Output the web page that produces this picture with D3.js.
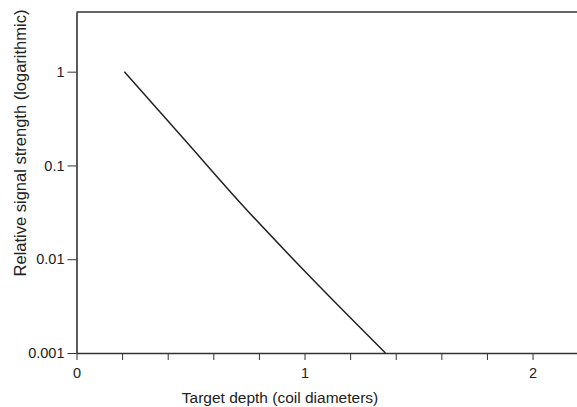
<!DOCTYPE html>
<html>
<head>
<meta charset="utf-8">
<script src="https://cdn.jsdelivr.net/npm/d3@7"></script>
<style>
  html, body { margin: 0; padding: 0; background: #fff; }
  svg { display: block; font-family: "Liberation Sans", Arial, Helvetica, sans-serif; }
</style>
</head>
<body>
<svg id="chart" width="577" height="407"></svg>
<script>
// Data
const depth = [0.21, 0.475, 0.74, 1.03, 1.355];
const signal = [1.0, 0.187, 0.035, 0.0063, 0.001];
const xTickValues = [0, 0.2, 0.4, 0.6, 0.8, 1, 1.2, 1.4, 1.6, 1.8, 2, 2.2];
const xTickLabels = ["0", "", "", "", "", "1", "", "", "", "", "2", ""];
const yTickValues = [1, 0.1, 0.01, 0.001];
const yTickLabels = ["1", "0.1", "0.01", "0.001"];
const xTitle = "Target depth (coil diameters)";
const yTitle = "Relative signal strength (logarithmic)";

const svg = d3.select("#chart");
const mLeft = 76.5, mRight = 577, mTop = 12, mBottom = 353;

const x = d3.scaleLinear().domain([0, 2.195]).range([mLeft, mRight]);
const y = d3.scaleLog().domain([0.001, 4.33]).range([mBottom, mTop]);

const axisColor = "#333";

// X axis
const xAxis = svg.append("g")
  .attr("transform", `translate(0,${mBottom})`)
  .call(d3.axisBottom(x)
    .tickValues(xTickValues)
    .tickFormat((d, i) => xTickLabels[i])
    .tickSize(7)
    .tickPadding(8)
    .tickSizeOuter(0));
xAxis.select(".domain").attr("stroke", axisColor).attr("stroke-width", 1.6);
xAxis.selectAll(".tick line").attr("stroke", axisColor).attr("stroke-width", 1);
xAxis.selectAll(".tick text").attr("fill", "#222").style("font-size", "14.5px");

// Y axis
const yAxis = svg.append("g")
  .attr("transform", `translate(${mLeft},0)`)
  .call(d3.axisLeft(y)
    .tickValues(yTickValues)
    .tickFormat((d, i) => yTickLabels[i])
    .tickSize(9)
    .tickPadding(3)
    .tickSizeOuter(0));
yAxis.select(".domain").attr("stroke", axisColor).attr("stroke-width", 1.6);
yAxis.selectAll(".tick line").attr("stroke", axisColor).attr("stroke-width", 1);
yAxis.selectAll(".tick text").attr("fill", "#222").style("font-size", "14.5px");

// Top border
svg.append("line")
  .attr("x1", mLeft).attr("x2", mRight)
  .attr("y1", mTop).attr("y2", mTop)
  .attr("stroke", axisColor).attr("stroke-width", 1.6);

// Curve
const pts = depth.map((d, i) => [d, signal[i]]);
svg.append("path")
  .datum(pts)
  .attr("fill", "none")
  .attr("stroke", "#222")
  .attr("stroke-width", 1.5)
  .attr("d", d3.line().x(d => x(d[0])).y(d => y(d[1])).curve(d3.curveMonotoneX));

// Titles
svg.append("text")
  .attr("x", 280).attr("y", 403)
  .attr("text-anchor", "middle")
  .attr("fill", "#222")
  .style("font-size", "15.5px")
  .text(xTitle);

svg.append("text")
  .attr("transform", "translate(26,143) rotate(-90)")
  .attr("text-anchor", "middle")
  .attr("fill", "#222")
  .style("font-size", "16.5px")
  .text(yTitle);
</script>
</body>
</html>
